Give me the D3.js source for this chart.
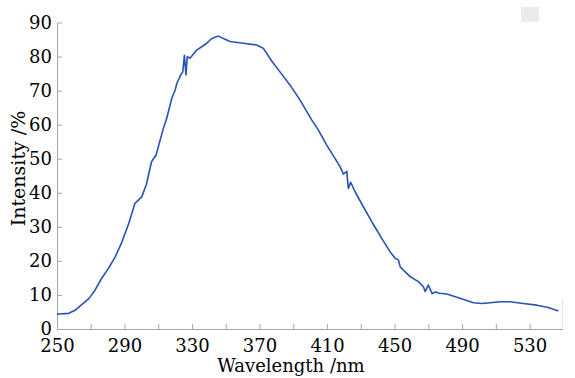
<!DOCTYPE html>
<html>
<head>
<meta charset="utf-8">
<script src="https://cdn.jsdelivr.net/npm/d3@7"></script>
<style>
body { margin: 0; background: #fff; }
text { font-family: "DejaVu Serif", serif; fill: #000; }
</style>
</head>
<body>
<script>
var w = 575, h = 378;

// spectrum
var wavelength = [250, 251, 257, 261, 265, 269, 272.5, 276.5, 280.5, 284.5, 288.5, 292.5, 296.2, 300.2, 303, 306, 308.7, 313, 315, 318, 320, 321, 323.3, 324.5, 325.5, 326.4, 327.2, 328.8, 332.8, 338.7, 341.7, 345.6, 352.5, 360.4, 368.3, 372.3, 377.2, 382.1, 388.1, 394, 400.9, 404.9, 409.8, 414.7, 417.7, 419.7, 421.7, 422.6, 424, 426.6, 431.5, 436.5, 442.4, 447.3, 450.3, 452.3, 453.3, 455.2, 459.2, 464.1, 467.1, 468.1, 470, 472.3, 474.3, 476.5, 480.9, 488.8, 496.7, 501.7, 506.6, 512.5, 518.4, 526.3, 534.3, 541.1, 547];
var intensity = [4.3, 4.4, 4.6, 5.6, 7.3, 9.0, 11.4, 14.9, 17.8, 21.2, 25.6, 31.0, 36.9, 38.8, 42.5, 49.1, 51.1, 58.9, 61.9, 67.7, 70.2, 72.1, 74.6, 75.5, 80.4, 74.6, 80.0, 79.5, 81.9, 83.9, 85.3, 86.0, 84.4, 83.9, 83.4, 82.4, 78.7, 75.5, 71.6, 67.2, 61.4, 58.4, 54.0, 50.1, 47.7, 45.5, 46.3, 41.3, 43.1, 40.3, 35.9, 31.5, 26.6, 22.7, 20.8, 20.3, 18.3, 17.3, 15.4, 13.9, 12.4, 11.0, 12.9, 10.4, 10.9, 10.5, 10.3, 9.0, 7.7, 7.5, 7.7, 8.0, 8.0, 7.5, 7.0, 6.3, 5.3];

var xTicks = [250, 290, 330, 370, 410, 450, 490, 530];
var xMinor = [270, 310, 350, 390, 430, 470, 510];
var yTicks = [0, 10, 20, 30, 40, 50, 60, 70, 80, 90];

var data = wavelength.map(function (d, i) { return { x: d, y: intensity[i] }; });

var x = d3.scaleLinear().domain([250, 549.5]).range([57, 562.5]);
var y = d3.scaleLinear().domain([0, 90]).range([329, 22.5]);

var svg = d3.select("body").append("svg")
    .attr("width", w)
    .attr("height", h);

// leftover legend box in the top right corner
svg.append("rect")
    .attr("x", 521).attr("y", 7)
    .attr("width", 18).attr("height", 15)
    .attr("fill", "#ebebeb");

svg.append("line")
    .attr("x1", 562.5).attr("x2", 562.5)
    .attr("y1", 299).attr("y2", 329)
    .attr("stroke", "#e4e4e4");

var xAxis = svg.append("g")
    .attr("transform", "translate(0,329)")
    .call(d3.axisBottom(x).tickValues(xTicks.concat(xMinor))
        .tickSizeInner(-5).tickSizeOuter(0).tickPadding(10)
        .tickFormat(function (d) { return xTicks.indexOf(d) >= 0 ? d : ""; }));

var yAxis = svg.append("g")
    .attr("transform", "translate(57,0)")
    .call(d3.axisLeft(y).tickValues(yTicks)
        .tickSizeInner(-5).tickSizeOuter(0).tickPadding(5));

[xAxis, yAxis].forEach(function (g) {
    g.select(".domain").attr("stroke", "#a6a6a6");
    g.selectAll(".tick line").attr("stroke", "#a6a6a6");
    g.selectAll("text")
        .style("font-family", "'DejaVu Serif', serif")
        .style("font-size", "18px")
        .attr("fill", "#000");
});

var line = d3.line()
    .x(function (d) { return x(d.x); })
    .y(function (d) { return y(d.y); })
    .curve(d3.curveLinear);

svg.append("path")
    .datum(data)
    .attr("d", line)
    .attr("fill", "none")
    .attr("stroke", "#2753b4")
    .attr("stroke-width", 1.6)
    .attr("stroke-linejoin", "round");

svg.append("text")
    .attr("x", 291).attr("y", 371.5)
    .attr("text-anchor", "middle")
    .style("font-size", "18px")
    .text("Wavelength /nm");

svg.append("text")
    .attr("transform", "translate(25,168.5) rotate(-90)")
    .attr("text-anchor", "middle")
    .style("font-size", "19px")
    .text("Intensity /%");
</script>
</body>
</html>
